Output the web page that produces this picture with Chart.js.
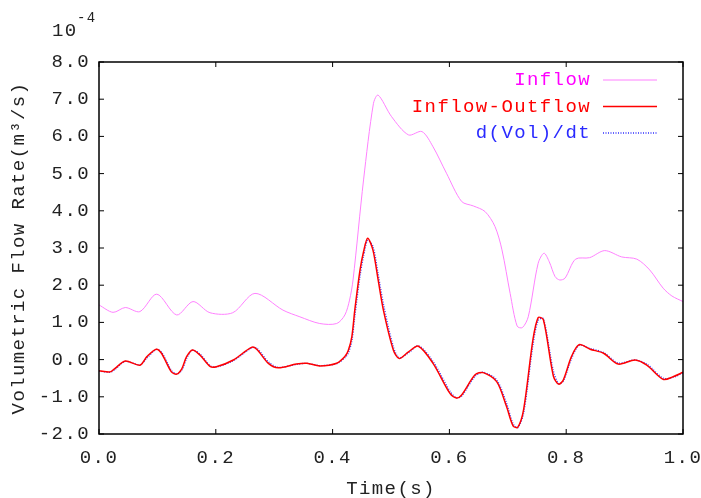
<!DOCTYPE html>
<html>
<head>
<meta charset="utf-8">
<script src="https://cdn.jsdelivr.net/npm/chart.js@4/dist/chart.umd.min.js"></script>
<style>
  html, body { margin: 0; padding: 0; background: #fff; }
  #wrap { width: 701px; height: 498px; }
</style>
</head>
<body>
<div id="wrap"><canvas id="grafico" width="701" height="498"></canvas></div>
<script>
// dados (unidade 1e-4 m3/s)
const tempoInflow = [0.000, 0.024, 0.045, 0.070, 0.099, 0.133, 0.161, 0.190, 0.229, 0.267,
  0.315, 0.344, 0.378, 0.407, 0.421, 0.429, 0.435, 0.453, 0.470, 0.478, 0.501, 0.530,
  0.553, 0.572, 0.595, 0.621, 0.641, 0.661, 0.678, 0.690, 0.704, 0.716, 0.725, 0.735,
  0.752, 0.762, 0.771, 0.781, 0.789, 0.798, 0.816, 0.840, 0.866, 0.895, 0.921, 0.943,
  0.966, 0.981, 1.000];
const inflow = [1.47, 1.27, 1.40, 1.29, 1.76, 1.20, 1.56, 1.26, 1.26, 1.78,
  1.33, 1.15, 0.97, 0.97, 1.20, 1.60, 2.14, 4.83, 6.89, 7.11, 6.53, 6.04,
  6.13, 5.72, 5.01, 4.25, 4.13, 3.98, 3.58, 2.95, 1.78, 0.90, 0.86, 1.15,
  2.59, 2.86, 2.63, 2.23, 2.14, 2.19, 2.70, 2.74, 2.93, 2.76, 2.70, 2.41,
  1.92, 1.71, 1.56];

const tempoNet = [0.000, 0.019, 0.027, 0.045, 0.070, 0.082, 0.098, 0.107, 0.124, 0.133,
  0.142, 0.150, 0.160, 0.173, 0.190, 0.201, 0.230, 0.261, 0.270, 0.290, 0.307, 0.338,
  0.356, 0.378, 0.407, 0.421, 0.427, 0.433, 0.438, 0.447, 0.453, 0.460, 0.469, 0.478,
  0.487, 0.504, 0.514, 0.530, 0.547, 0.572, 0.601, 0.612, 0.621, 0.644, 0.658, 0.681,
  0.698, 0.709, 0.717, 0.727, 0.743, 0.752, 0.761, 0.778, 0.787, 0.795, 0.809, 0.822,
  0.841, 0.864, 0.889, 0.918, 0.938, 0.966, 0.983, 1.000];
const inflowOutflow = [-0.30, -0.33, -0.24, -0.04, -0.15, 0.08, 0.28, 0.17, -0.33, -0.39,
  -0.24, 0.08, 0.26, 0.12, -0.18, -0.19, -0.01, 0.33, 0.28, -0.10, -0.22, -0.12,
  -0.10, -0.17, -0.10, 0.08, 0.25, 0.62, 1.33, 2.41, 2.90, 3.26, 2.95, 2.14,
  1.33, 0.26, 0.03, 0.21, 0.36, -0.10, -0.91, -1.03, -0.95, -0.41, -0.35, -0.59,
  -1.27, -1.78, -1.82, -1.35, 0.53, 1.13, 1.07, -0.44, -0.66, -0.55, 0.08, 0.40,
  0.28, 0.17, -0.12, -0.01, -0.15, -0.53, -0.46, -0.34];
const dVoldt = [-0.31, -0.34, -0.27, -0.05, -0.14, 0.04, 0.27, 0.20, -0.29, -0.39,
  -0.28, 0.03, 0.25, 0.15, -0.16, -0.20, -0.03, 0.31, 0.31, -0.06, -0.21, -0.13,
  -0.10, -0.16, -0.11, 0.05, 0.18, 0.50, 1.15, 2.25, 2.78, 3.20, 3.05, 2.30,
  1.50, 0.35, 0.05, 0.18, 0.37, -0.05, -0.85, -1.03, -0.98, -0.45, -0.34, -0.55,
  -1.18, -1.72, -1.83, -1.45, 0.38, 1.05, 1.10, -0.30, -0.64, -0.58, 0.02, 0.38,
  0.30, 0.19, -0.09, -0.01, -0.12, -0.50, -0.48, -0.36];

const xTicks = ['0.0', '0.2', '0.4', '0.6', '0.8', '1.0'];
const yTicks = ['-2.0', '-1.0', '0.0', '1.0', '2.0', '3.0', '4.0', '5.0', '6.0', '7.0', '8.0'];
const legendaCores = ['#ff00ff', '#ff0000', '#2a2aff'];

const fonte = 'Liberation Mono, Courier New, monospace';

function pares(xs, ys) {
  return xs.map((x, i) => ({ x: x, y: ys[i] }));
}

// espaçamento entre letras, parecido com o gnuplot
const espacamento = {
  id: 'espacamento',
  beforeDraw(chart) { chart.ctx.letterSpacing = '1.4px'; }
};

// moldura com marcas internas nos quatro lados + expoente 10^-4
const moldura = {
  id: 'moldura',
  afterDatasetsDraw(chart) {
    const { ctx, chartArea: a, scales } = chart;
    ctx.save();
    ctx.strokeStyle = '#000';
    ctx.lineWidth = 1.5;
    ctx.strokeRect(a.left, a.top, a.right - a.left, a.bottom - a.top);
    ctx.lineWidth = 1;
    ctx.beginPath();
    scales.x.ticks.forEach(t => {
      const px = scales.x.getPixelForValue(t.value);
      ctx.moveTo(px, a.bottom); ctx.lineTo(px, a.bottom - 5);
      ctx.moveTo(px, a.top); ctx.lineTo(px, a.top + 5);
    });
    scales.y.ticks.forEach(t => {
      const py = scales.y.getPixelForValue(t.value);
      ctx.moveTo(a.left, py); ctx.lineTo(a.left + 5, py);
      ctx.moveTo(a.right, py); ctx.lineTo(a.right - 5, py);
    });
    ctx.stroke();

    ctx.fillStyle = '#222';
    ctx.textAlign = 'left';
    ctx.textBaseline = 'alphabetic';
    ctx.font = '19px ' + fonte;
    ctx.fillText('10', 52, 36);
    ctx.font = '14px ' + fonte;
    ctx.fillText('-4', 77, 22);
    ctx.restore();
  }
};

// legenda no estilo gnuplot: texto à direita alinhado, amostra da linha ao lado
const legenda = {
  id: 'legenda',
  afterDraw(chart) {
    const ctx = chart.ctx;
    ctx.save();
    ctx.font = '19px ' + fonte;
    ctx.textAlign = 'right';
    ctx.textBaseline = 'middle';
    chart.data.datasets.forEach((ds, i) => {
      const y = 80 + i * 26.5;
      ctx.fillStyle = legendaCores[i];
      ctx.fillText(ds.label, 591, y);
      ctx.beginPath();
      ctx.strokeStyle = ds.borderColor;
      ctx.lineWidth = ds.borderWidth;
      ctx.setLineDash(ds.borderDash || []);
      ctx.moveTo(603, y);
      ctx.lineTo(657, y);
      ctx.stroke();
    });
    ctx.restore();
  }
};

const ctx = document.getElementById('grafico').getContext('2d');
new Chart(ctx, {
  type: 'line',
  data: {
    datasets: [
      {
        label: 'Inflow',
        data: pares(tempoInflow, inflow),
        borderColor: '#ff80ff',
        borderWidth: 1,
        pointRadius: 0,
        tension: 0.3
      },
      {
        label: 'Inflow-Outflow',
        data: pares(tempoNet, inflowOutflow),
        borderColor: '#ff0000',
        borderWidth: 1.5,
        pointRadius: 0,
        tension: 0.3
      },
      {
        label: 'd(Vol)/dt',
        data: pares(tempoNet, dVoldt),
        borderColor: '#3030ff',
        borderWidth: 1.3,
        borderDash: [1, 1.5],
        pointRadius: 0,
        tension: 0.3
      }
    ]
  },
  options: {
    responsive: false,
    animation: false,
    layout: { padding: { left: 8, right: 18, top: 62, bottom: 0 } },
    scales: {
      x: {
        type: 'linear',
        min: 0,
        max: 1,
        afterBuildTicks: s => { s.ticks = xTicks.map(v => ({ value: Number(v) })); },
        afterFit: s => { s.height = 64; s.paddingLeft = 0; s.paddingRight = 0; },
        grid: { display: false, drawTicks: false },
        border: { display: false },
        ticks: {
          padding: 13,
          color: '#222',
          font: { family: fonte, size: 19 },
          maxRotation: 0,
          callback: v => Number(v).toFixed(1)
        },
        title: {
          display: true,
          text: 'Time(s)',
          color: '#222',
          font: { family: fonte, size: 19, lineHeight: 1 },
          padding: { top: 0, bottom: 0 }
        }
      },
      y: {
        min: -2,
        max: 8,
        afterBuildTicks: s => { s.ticks = yTicks.map(v => ({ value: Number(v) })); },
        afterFit: s => { s.width = 91; s.paddingTop = 0; s.paddingBottom = 0; },
        grid: { display: false, drawTicks: false },
        border: { display: false },
        ticks: {
          padding: 9,
          color: '#222',
          font: { family: fonte, size: 19 },
          callback: v => Number(v).toFixed(1)
        },
        title: {
          display: true,
          text: 'Volumetric Flow Rate(m³/s)',
          color: '#222',
          font: { family: fonte, size: 19, lineHeight: 1.2 },
          padding: 0
        }
      }
    },
    plugins: {
      legend: { display: false },
      tooltip: { enabled: false }
    }
  },
  plugins: [espacamento, moldura, legenda]
});
</script>
</body>
</html>
